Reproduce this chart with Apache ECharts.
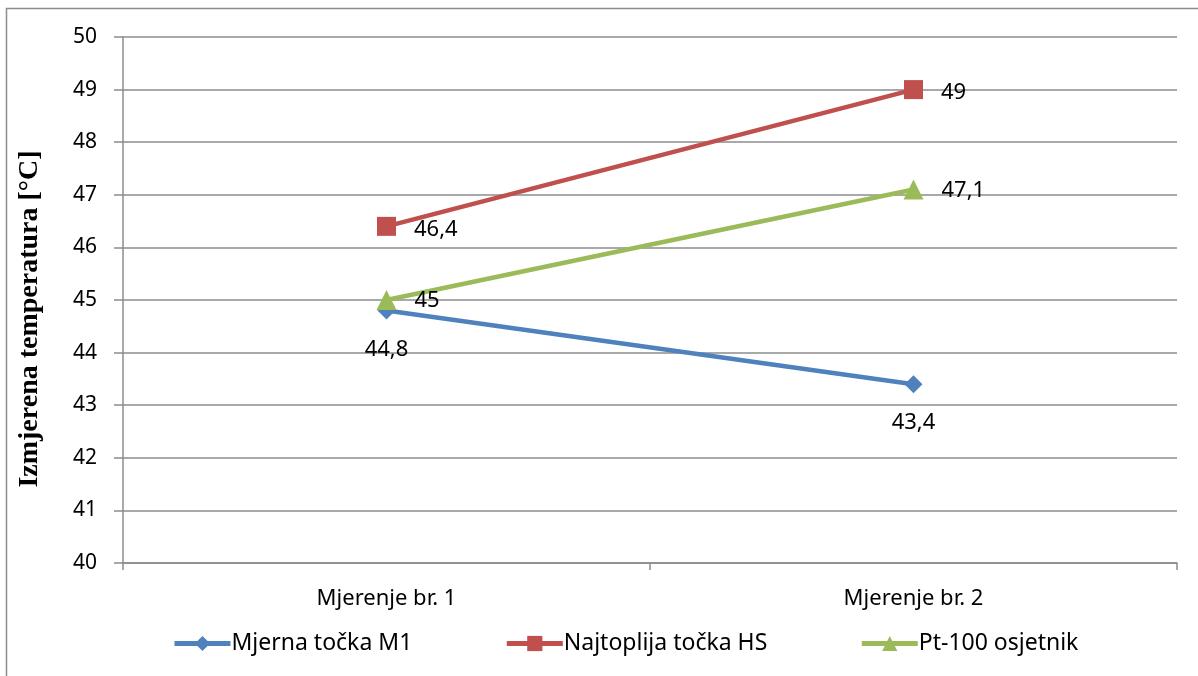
<!DOCTYPE html>
<html>
<head>
<meta charset="utf-8">
<script src="https://cdn.jsdelivr.net/npm/echarts@6/dist/echarts.min.js"></script>
<style>
  html, body { margin: 0; padding: 0; background: #fff; }
  #chart { width: 1198px; height: 676px; }
</style>
</head>
<body>
<div id="chart"></div>
<script>
// data
const categories = ['Mjerenje br. 1', 'Mjerenje br. 2']
const m1 = [44.8, 43.4]
const hs = [46.4, 49]
const pt100 = [45, 47.1]
const seriesNames = ['Mjerna točka M1', 'Najtoplija točka HS', 'Pt-100 osjetnik']

const font = 'Noto Sans'
const fmt = p => String(p.value).replace('.', ',')

const chart = echarts.init(document.getElementById('chart'))

const lbl = (pos, dx, dy) => ({
  show: true,
  position: pos,
  offset: [dx, dy],
  color: '#000',
  fontFamily: font,
  fontSize: 22,
  formatter: fmt
})

chart.setOption({
  animation: false,
  backgroundColor: '#fff',
  graphic: [{
    type: 'rect',
    shape: { x: 6.5, y: 8.5, width: 1250, height: 700 },
    style: { fill: 'none', stroke: '#8c8c8c', lineWidth: 1.5 },
    silent: true
  }],
  grid: { left: 123, right: 21, top: 37, bottom: 113 },
  legend: {
    bottom: 16,
    left: 167,
    itemWidth: 56,
    itemHeight: 19,
    itemGap: 92,
    lineStyle: { width: 5 },
    textStyle: { fontFamily: font, fontSize: 23, color: '#000', padding: [0, 0, 0, -4] },
    data: seriesNames
  },
  xAxis: {
    type: 'category',
    data: categories,
    boundaryGap: true,
    axisLine: { lineStyle: { color: '#8c8c8c', width: 1.5 } },
    axisTick: { show: true, length: 7, lineStyle: { color: '#8c8c8c', width: 1.5 } },
    axisLabel: { fontFamily: font, fontSize: 22, color: '#000', margin: 25 }
  },
  yAxis: {
    type: 'value',
    min: 40,
    max: 50,
    interval: 1,
    name: 'Izmjerena temperatura [°C]',
    nameLocation: 'middle',
    nameGap: 79,
    nameTextStyle: {
      fontFamily: 'Liberation Serif', fontSize: 28, fontWeight: 'bold', color: '#000',
      padding: [0, 38, 0, 0]
    },
    axisLine: { show: true, lineStyle: { color: '#8c8c8c', width: 1.5 } },
    axisTick: { show: true, length: 9, lineStyle: { color: '#8c8c8c', width: 1.5 } },
    axisLabel: { fontFamily: font, fontSize: 21, color: '#000', margin: 26 },
    splitLine: { lineStyle: { color: '#8c8c8c', width: 1.5 } }
  },
  series: [
    {
      name: seriesNames[0],
      type: 'line',
      data: m1,
      symbol: 'diamond',
      symbolSize: 18,
      itemStyle: { color: '#4F81BD' },
      lineStyle: { width: 4.5, color: '#4F81BD' },
      label: lbl('bottom', 0, 14),
      z: 3
    },
    {
      name: seriesNames[1],
      type: 'line',
      data: hs,
      symbol: 'rect',
      symbolSize: 19,
      itemStyle: { color: '#C0504D' },
      lineStyle: { width: 4.5, color: '#C0504D' },
      label: lbl('right', 13, 3),
      z: 3
    },
    {
      name: seriesNames[2],
      type: 'line',
      data: pt100,
      symbol: 'triangle',
      symbolSize: 20,
      itemStyle: { color: '#9BBB59' },
      lineStyle: { width: 4.5, color: '#9BBB59' },
      label: lbl('right', 13, 1),
      z: 4
    }
  ]
})
</script>
</body>
</html>
